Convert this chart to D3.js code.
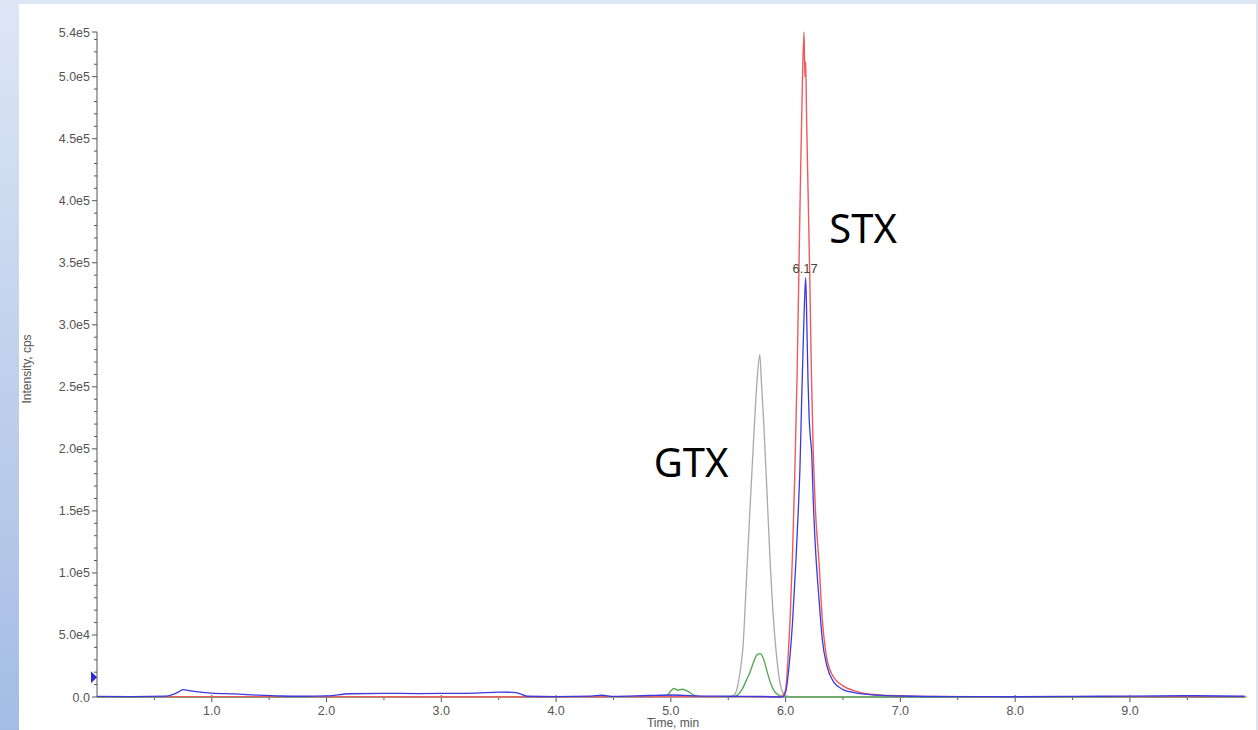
<!DOCTYPE html>
<html>
<head>
<meta charset="utf-8">
<script src="https://cdn.jsdelivr.net/npm/d3@7"></script>
<style>
  body { margin: 0; background: #fff; }
  svg { display: block; }
  .tick-label { font-family: "Liberation Sans", Arial, sans-serif; fill: #555; }
</style>
</head>
<body>
<svg id="chart" width="1258" height="730"></svg>
<script>
// ---- data: [time (min), intensity (cps)] ----
var redTrace = [
  [0.0, 300], [2.0, 300], [4.0, 200], [5.0, 400], [5.9, 200], [5.96, 300],
  [5.98, 2000], [6.0, 6000], [6.02, 30000], [6.04, 65000], [6.06, 115000],
  [6.08, 180000], [6.1, 260000], [6.115, 340000], [6.13, 420000], [6.145, 490000],
  [6.16, 536000], [6.168, 500000], [6.175, 512000], [6.182, 470000], [6.195, 410000],
  [6.21, 340000], [6.225, 260000], [6.24, 200000], [6.26, 150000], [6.29, 110000],
  [6.32, 62000], [6.35, 36000], [6.4, 19000], [6.5, 9000], [6.6, 5000],
  [6.7, 2600], [6.9, 1200], [7.2, 500], [8.0, 300], [10.0, 300]
];
var blueTrace = [
  [0.0, 500], [0.3, 300], [0.6, 700], [0.7, 3500], [0.75, 6000], [0.8, 5200],
  [0.9, 4000], [1.0, 3200], [1.2, 2500], [1.4, 1500], [1.6, 800], [1.8, 600],
  [2.0, 900], [2.2, 2600], [2.5, 3000], [2.8, 2800], [3.0, 2900], [3.3, 3200],
  [3.5, 4000], [3.65, 3600], [3.75, 600], [4.0, 300], [4.3, 700], [4.4, 1400],
  [4.5, 500], [4.8, 1200], [5.0, 1600], [5.2, 900], [5.5, 600], [5.8, 400],
  [5.97, 0], [6.0, 4000], [6.03, 25000], [6.06, 60000], [6.09, 110000],
  [6.11, 150000], [6.125, 185000], [6.14, 240000], [6.155, 290000], [6.165, 320000],
  [6.175, 338000], [6.185, 300000], [6.195, 255000], [6.205, 225000], [6.215, 210000],
  [6.228, 195000], [6.24, 160000], [6.26, 120000], [6.29, 80000], [6.32, 46000],
  [6.36, 25000], [6.42, 12000], [6.5, 6000], [6.6, 3500], [6.8, 1500],
  [7.0, 800], [7.5, 300], [8.0, 200], [8.5, 500], [9.0, 700], [9.5, 1000], [10.0, 600]
];
var greyTrace = [
  [0.0, 0], [5.5, 0], [5.55, 1500], [5.58, 8000], [5.61, 25000], [5.63, 42000],
  [5.65, 78000], [5.67, 116000], [5.7, 170000], [5.73, 223000], [5.755, 260000],
  [5.775, 276000], [5.79, 252000], [5.81, 220000], [5.84, 160000], [5.87, 100000],
  [5.89, 68000], [5.92, 34000], [5.95, 12000], [5.98, 3000], [6.02, 500],
  [6.1, 0], [10.0, 0]
];
var greenTrace = [
  [0.0, 0], [4.9, 300], [4.97, 1500], [5.0, 5000], [5.03, 6800], [5.06, 5500],
  [5.1, 6200], [5.15, 4500], [5.2, 1500], [5.25, 300], [5.55, 300], [5.58, 1500],
  [5.62, 6000], [5.66, 14000], [5.69, 20000], [5.72, 28000], [5.75, 34000],
  [5.78, 35000], [5.81, 30000], [5.84, 20000], [5.87, 11000], [5.9, 5000],
  [5.94, 1500], [5.98, 300], [6.05, 0], [10.0, 0]
];

var yMajorTicks = [0, 5e4, 1e5, 1.5e5, 2e5, 2.5e5, 3e5, 3.5e5, 4e5, 4.5e5, 5e5];
var yMax = 5.36e5;
var xMajorTicks = [1, 2, 3, 4, 5, 6, 7, 8, 9];
var peakLabel = {time: 6.17, value: 338000, text: "6.17"};
var annotations = [
  {text: "STX", time: 6.38, value: 3.66e5},
  {text: "GTX", time: 4.85, value: 1.77e5}
];

// ---- layout ----
var svg = d3.select("#chart");
var margin = {left: 97, right: 11, top: 32, bottom: 33};
var width = 1258, height = 730;

var defs = svg.append("defs");
var grad = defs.append("linearGradient").attr("id", "side")
  .attr("x1", 0).attr("y1", 0).attr("x2", 0).attr("y2", 1);
grad.append("stop").attr("offset", "0%").attr("stop-color", "#dde6f5");
grad.append("stop").attr("offset", "100%").attr("stop-color", "#a4bce4");

svg.append("rect").attr("width", width).attr("height", height).attr("fill", "url(#side)");
svg.append("rect").attr("x", 19).attr("y", 4).attr("width", width - 21).attr("height", height)
  .attr("fill", "#fff");
svg.append("rect").attr("x", width - 2).attr("y", 0).attr("width", 2).attr("height", height)
  .attr("fill", "#dbe4f3");

var x = d3.scaleLinear().domain([0, 10.02]).range([margin.left, width - margin.right]);
var y = d3.scaleLinear().domain([0, yMax]).range([697, margin.top]);

// ---- axes ----
var axisColor = "#555";
var yAxis = svg.append("g").attr("class", "axis");
yAxis.append("line").attr("x1", x(0)).attr("x2", x(0)).attr("y1", y(yMax)).attr("y2", y(0))
  .attr("stroke", axisColor);
var minor = d3.range(1e4, yMax, 1e4).filter(function(v) { return Math.round(v) % 50000 !== 0; });
yAxis.selectAll(".ymin").data(minor).enter().append("line")
  .attr("x1", x(0) - 3).attr("x2", x(0))
  .attr("y1", function(d) { return y(d); }).attr("y2", function(d) { return y(d); })
  .attr("stroke", axisColor);
yAxis.selectAll(".ymaj").data(yMajorTicks.concat([yMax])).enter().append("line")
  .attr("x1", x(0) - 5).attr("x2", x(0))
  .attr("y1", function(d) { return y(d); }).attr("y2", function(d) { return y(d); })
  .attr("stroke", axisColor);

function fmtY(v) {
  if (v === 0) return "0.0";
  var e = Math.floor(Math.log10(v));
  return (v / Math.pow(10, e)).toFixed(1) + "e" + e;
}
yAxis.selectAll(".ylab").data(yMajorTicks.concat([yMax])).enter().append("text")
  .attr("class", "tick-label")
  .attr("x", x(0) - 7).attr("y", function(d) { return y(d) + 4.5; })
  .attr("text-anchor", "end").style("font-size", "12.5px")
  .text(fmtY);

var xAxis = svg.append("g").attr("class", "axis");
xAxis.append("line").attr("x1", x(0)).attr("x2", x(10.02)).attr("y1", y(0)).attr("y2", y(0))
  .attr("stroke", "#888");
xAxis.selectAll(".xmin").data(d3.range(0.5, 10, 1)).enter().append("line")
  .attr("x1", function(d) { return x(d); }).attr("x2", function(d) { return x(d); })
  .attr("y1", y(0)).attr("y2", y(0) + 3)
  .attr("stroke", axisColor);
xAxis.selectAll(".xmaj").data(xMajorTicks).enter().append("line")
  .attr("x1", function(d) { return x(d); }).attr("x2", function(d) { return x(d); })
  .attr("y1", y(0) - 2).attr("y2", y(0) + 5)
  .attr("stroke", axisColor);
xAxis.selectAll(".xlab").data(xMajorTicks).enter().append("text")
  .attr("class", "tick-label")
  .attr("x", function(d) { return x(d); }).attr("y", 715)
  .attr("text-anchor", "middle").style("font-size", "12.5px")
  .text(d3.format(".1f"));

svg.append("text").attr("class", "tick-label")
  .attr("x", 673).attr("y", 727).attr("text-anchor", "middle")
  .style("font-size", "12px").text("Time, min");
svg.append("text").attr("class", "tick-label")
  .attr("transform", "translate(31,369) rotate(-90)").attr("text-anchor", "middle")
  .style("font-size", "12px").text("Intensity, cps");

// blue marker on the y axis
svg.append("path")
  .attr("d", "M" + (x(0) - 6) + "," + (y(16000) - 6) + "L" + x(0) + "," + y(16000) +
       "L" + (x(0) - 6) + "," + (y(16000) + 6) + "Z")
  .attr("fill", "#2a2ad8");

// ---- traces ----
var line = d3.line()
  .x(function(d) { return x(d[0]); })
  .y(function(d) { return y(d[1]); })
  .curve(d3.curveMonotoneX);

var series = [
  {data: greyTrace, color: "#a9a9a9", w: 1.3},
  {data: greenTrace, color: "#5aa95a", w: 1.4},
  {data: redTrace, color: "#ef5a5e", w: 1.4},
  {data: blueTrace, color: "#3a3ae0", w: 1.3}
];
svg.append("g").selectAll("path").data(series).enter().append("path")
  .attr("d", function(d) { return line(d.data); })
  .attr("fill", "none")
  .attr("stroke", function(d) { return d.color; })
  .attr("stroke-width", function(d) { return d.w; })
  .attr("stroke-linejoin", "round");

// ---- labels ----
svg.append("text").attr("class", "tick-label")
  .attr("x", x(peakLabel.time)).attr("y", y(peakLabel.value) - 5)
  .attr("text-anchor", "middle").style("font-size", "13px").style("fill", "#444")
  .text(peakLabel.text);

svg.selectAll(".anno").data(annotations).enter().append("text")
  .attr("x", function(d) { return x(d.time); })
  .attr("y", function(d) { return y(d.value); })
  .style("font-family", "'Noto Sans', 'Open Sans', sans-serif")
  .style("font-size", "40px").style("fill", "#000")
  .text(function(d) { return d.text; });
</script>
</body>
</html>
